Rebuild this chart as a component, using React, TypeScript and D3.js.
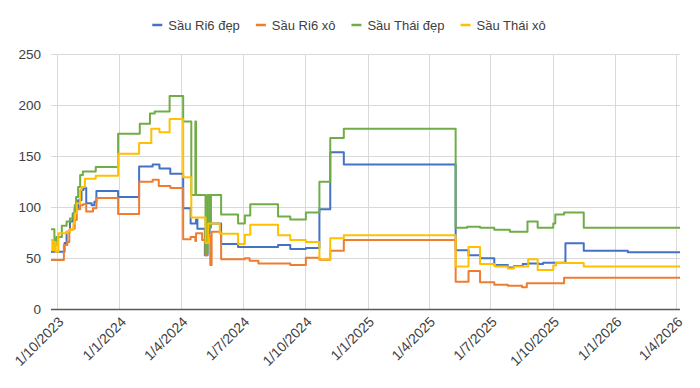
import * as d3 from "d3";
import React, { useRef, useEffect } from "react";

// price series, each keeps its own change dates (value holds until next date)
const ri6DepDates = [
  "2023-09-22", "2023-10-12", "2023-10-15", "2023-10-20", "2023-10-24", "2023-10-27",
  "2023-11-01", "2023-11-06", "2023-11-09", "2023-11-13", "2023-11-21", "2023-11-25",
  "2023-11-28", "2023-12-30", "2024-01-30", "2024-02-19", "2024-02-29", "2024-03-16",
  "2024-04-04", "2024-04-15", "2024-04-23", "2024-04-25", "2024-05-06", "2024-05-10",
  "2024-05-13", "2024-05-30", "2024-06-24", "2024-08-22", "2024-09-09", "2024-10-02",
  "2024-10-22", "2024-11-07", "2024-11-27", "2025-05-11", "2025-05-30", "2025-06-16",
  "2025-07-07", "2025-07-27", "2025-08-05", "2025-08-18", "2025-08-26", "2025-09-11",
  "2025-09-17", "2025-10-20", "2025-11-16", "2026-01-20", "2026-04-07",
];
const ri6DepValues = [
  56.5, 65, 76, 86, 94, 99,
  107, 117, 119, 104, 102, 105.5,
  116, 110, 140, 142, 138, 133,
  99, 84, 88, 79, 53, 74,
  84, 64, 61, 63, 59, 60,
  98, 154, 142, 58, 53, 50,
  43.5, 41, 42.5, 44.5, 45, 44.5,
  45.7, 64.7, 57.5, 56, 56,
];

const ri6XoDates = [
  "2023-09-22", "2023-10-11", "2023-10-16", "2023-10-19", "2023-10-24", "2023-10-27",
  "2023-10-30", "2023-11-04", "2023-11-08", "2023-11-13", "2023-11-23", "2023-11-28",
  "2023-12-30", "2024-01-30", "2024-02-19", "2024-02-28", "2024-03-16", "2024-04-04",
  "2024-04-15", "2024-04-22", "2024-04-23", "2024-05-02", "2024-05-07", "2024-05-09",
  "2024-05-14", "2024-05-16", "2024-05-30", "2024-07-04", "2024-07-11", "2024-07-24",
  "2024-09-09", "2024-10-02", "2024-10-22", "2024-11-07", "2024-11-27", "2025-05-11",
  "2025-05-30", "2025-06-16", "2025-07-07", "2025-07-27", "2025-08-17", "2025-08-24",
  "2025-10-18", "2026-04-07",
];
const ri6XoValues = [
  48.3, 63, 66, 78, 79, 87.5,
  98, 102, 103, 96, 99, 109,
  93.4, 125, 127, 121, 119, 68.6,
  71, 67, 74.5, 68, 53, 72,
  43.4, 76, 49, 50, 47.6, 45,
  43.4, 50.5, 48.5, 57.5, 68, 27,
  37.5, 26.5, 24, 23, 21.5, 25.5,
  31, 31,
];

const thaiDepDates = [
  "2023-09-22", "2023-09-27", "2023-09-30", "2023-10-08", "2023-10-15", "2023-10-20",
  "2023-10-25", "2023-10-27", "2023-10-29", "2023-11-01", "2023-11-04", "2023-11-08",
  "2023-11-27", "2023-12-30", "2024-01-31", "2024-02-15", "2024-02-22", "2024-03-15",
  "2024-04-04", "2024-04-16", "2024-04-22", "2024-04-23", "2024-05-07", "2024-05-10",
  "2024-05-13", "2024-05-15", "2024-05-30", "2024-06-24", "2024-07-04", "2024-07-12",
  "2024-08-22", "2024-09-09", "2024-10-02", "2024-10-22", "2024-11-07", "2024-11-27",
  "2025-05-11", "2025-05-28", "2025-06-16", "2025-07-07", "2025-07-30", "2025-08-25",
  "2025-09-09", "2025-10-02", "2025-10-05", "2025-10-18", "2025-11-16", "2026-04-07",
];
const thaiDepValues = [
  78.4, 63, 71, 82, 86, 89,
  94, 102, 110, 120, 131.7, 135,
  139.5, 172, 182, 192, 194, 209,
  184, 112, 184, 112, 55, 112,
  80, 112, 93, 84, 92, 103,
  91, 88, 95, 125, 168, 177,
  80, 81, 80, 78, 76, 86,
  80, 84, 93, 95, 80, 80,
];

const thaiXoDates = [
  "2023-09-22", "2023-09-24", "2023-09-27", "2023-09-29", "2023-10-03", "2023-10-15",
  "2023-10-20", "2023-10-25", "2023-10-27", "2023-10-30", "2023-11-04", "2023-11-06",
  "2023-11-11", "2023-11-27", "2023-12-30", "2024-01-30", "2024-02-17", "2024-02-29",
  "2024-03-15", "2024-04-04", "2024-04-16", "2024-05-07", "2024-05-11", "2024-05-28",
  "2024-06-24", "2024-07-04", "2024-07-12", "2024-08-22", "2024-09-09", "2024-10-02",
  "2024-10-22", "2024-11-07", "2024-11-27", "2025-05-11", "2025-05-30", "2025-06-16",
  "2025-07-08", "2025-07-27", "2025-08-05", "2025-08-26", "2025-09-09", "2025-10-02",
  "2025-10-06", "2025-11-16", "2026-04-07",
];
const thaiXoValues = [
  68, 58, 66, 56.5, 74.5, 76,
  78.4, 84, 94, 104, 117, 120,
  128, 131, 152.5, 163, 177, 173.5,
  186.5, 129.5, 90, 65, 84, 74,
  64, 73, 83, 72.5, 68, 66,
  49, 69.6, 72.5, 42, 61, 44.5,
  42, 40, 42, 49, 38.5, 43,
  45.5, 42, 42,
];

const seriesNames = ["Sầu Ri6 đẹp", "Sầu Ri6 xô", "Sầu Thái đẹp", "Sầu Thái xô"];
const seriesColors = ["#4472C4", "#ED7D31", "#70AD47", "#FFC000"];
const yTicks = [0, 50, 100, 150, 200, 250];
const xDomain = ["2023-09-22", "2026-04-07"];

const FONT = "'Liberation Sans', Arial, sans-serif";
const TEXT = "#404040";

function App() {
  const svgRef = useRef(null);

  useEffect(() => {
    const svg = d3.select(svgRef.current);
    svg.selectAll("*").remove();

    const parse = d3.timeParse("%Y-%m-%d");
    const fmt = d3.timeFormat("%-d/%-m/%Y");

    const allDates = [ri6DepDates, ri6XoDates, thaiDepDates, thaiXoDates];
    const allValues = [ri6DepValues, ri6XoValues, thaiDepValues, thaiXoValues];
    const series = allDates.map((dates, i) =>
      dates.map((d, j) => [parse(d), allValues[i][j]])
    );

    const left = 51, right = 680, top = 54.3, bottom = 309.3;

    const x = d3.scaleTime().domain(xDomain.map((d) => parse(d))).range([left, right]);
    const y = d3.scaleLinear().domain([0, 250]).range([bottom, top]);

    // horizontal grid
    svg
      .append("g")
      .selectAll("line")
      .data(yTicks.filter((t) => t > 0))
      .enter()
      .append("line")
      .attr("x1", left)
      .attr("x2", right)
      .attr("y1", (d) => Math.round(y(d)) + 0.5)
      .attr("y2", (d) => Math.round(y(d)) + 0.5)
      .attr("stroke", "#d9d9d9")
      .attr("stroke-width", 1);

    // vertical grid at quarter ticks
    const xTicks = x.ticks(d3.timeMonth.every(3));
    svg
      .append("g")
      .selectAll("line")
      .data(xTicks)
      .enter()
      .append("line")
      .attr("x1", (d) => Math.round(x(d)) + 0.5)
      .attr("x2", (d) => Math.round(x(d)) + 0.5)
      .attr("y1", top)
      .attr("y2", bottom)
      .attr("stroke", "#d9d9d9")
      .attr("stroke-width", 1);

    // y labels
    svg
      .append("g")
      .selectAll("text")
      .data(yTicks)
      .enter()
      .append("text")
      .attr("x", 41)
      .attr("y", (d) => y(d))
      .attr("dy", "0.35em")
      .attr("text-anchor", "end")
      .attr("font-family", FONT)
      .attr("font-size", 13.5)
      .attr("fill", TEXT)
      .text((d) => d);

    // x axis line
    svg
      .append("line")
      .attr("x1", left)
      .attr("x2", right)
      .attr("y1", Math.round(bottom) + 0.5)
      .attr("y2", Math.round(bottom) + 0.5)
      .attr("stroke", "#595959")
      .attr("stroke-width", 1.3);

    // x labels, rotated
    svg
      .append("g")
      .selectAll("text")
      .data(xTicks)
      .enter()
      .append("text")
      .attr("transform", (d) => `translate(${x(d) + 4}, ${bottom + 10}) rotate(-45)`)
      .attr("dy", "0.35em")
      .attr("text-anchor", "end")
      .attr("font-family", FONT)
      .attr("font-size", 14)
      .attr("fill", TEXT)
      .text((d) => fmt(d));

    // lines
    const line = d3
      .line()
      .x((d) => x(d[0]))
      .y((d) => y(d[1]))
      .curve(d3.curveStepAfter);

    series.forEach((s, i) => {
      svg
        .append("path")
        .datum(s)
        .attr("fill", "none")
        .attr("stroke", seriesColors[i])
        .attr("stroke-width", 2)
        .attr("stroke-linejoin", "round")
        .attr("d", line);
    });

    // legend, centered above the plot
    const legend = svg.append("g");
    const items = seriesNames.map((name, i) => {
      const g = legend.append("g");
      g.append("line")
        .attr("x1", 0)
        .attr("x2", 10)
        .attr("y1", 25)
        .attr("y2", 25)
        .attr("stroke", seriesColors[i])
        .attr("stroke-width", 2.5);
      const t = g
        .append("text")
        .attr("x", 16)
        .attr("y", 25)
        .attr("dy", "0.35em")
        .attr("font-family", FONT)
        .attr("font-size", 13)
        .attr("fill", TEXT)
        .text(name);
      return { g, w: 16 + t.node().getComputedTextLength() };
    });
    const gap = 16;
    const total = items.reduce((a, it) => a + it.w, 0) + gap * (items.length - 1);
    let cx = 349 - total / 2;
    items.forEach((it) => {
      it.g.attr("transform", `translate(${cx}, 0)`);
      cx += it.w + gap;
    });
  }, []);

  return (
    <div style={{ position: "absolute", left: 0, top: 0 }}>
      <svg ref={svgRef} width={700} height={388} style={{ display: "block", background: "#fff" }} />
    </div>
  );
}

export default App;
